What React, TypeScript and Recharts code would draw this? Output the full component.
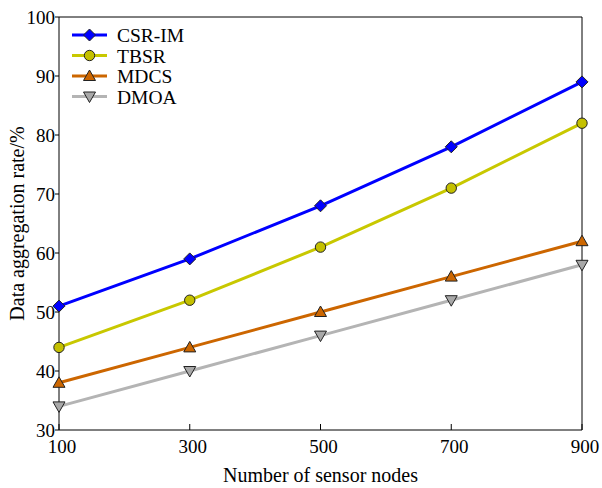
import React from 'react';
import { LineChart, Line, XAxis, YAxis, ReferenceLine } from 'recharts';

const nodes = [100, 300, 500, 700, 900];
const csrIm = [51, 59, 68, 78, 89];
const tbsr = [44, 52, 61, 71, 82];
const mdcs = [38, 44, 50, 56, 62];
const dmoa = [34, 40, 46, 52, 58];
const yTicks = [30, 40, 50, 60, 70, 80, 90, 100];

const SERIES = [
  { key: 'csr', name: 'CSR-IM', line: '#0000ff', fill: '#0000ff', shape: 'diamond' },
  { key: 'tbsr', name: 'TBSR', line: '#c8c800', fill: '#c4c000', shape: 'circle' },
  { key: 'mdcs', name: 'MDCS', line: '#cc6600', fill: '#cc6600', shape: 'up' },
  { key: 'dmoa', name: 'DMOA', line: '#b4b4b4', fill: '#a8a8a8', shape: 'down' },
];

const data = nodes.map((n, i) => ({ n, csr: csrIm[i], tbsr: tbsr[i], mdcs: mdcs[i], dmoa: dmoa[i] }));

const FONT = '"Liberation Serif", "Times New Roman", serif';

function Marker({ cx, cy, shape, fill }: { cx: number; cy: number; shape: string; fill: string }) {
  const stroke = '#222';
  if (shape === 'diamond') {
    return <polygon points={`${cx},${cy - 6} ${cx + 6},${cy} ${cx},${cy + 6} ${cx - 6},${cy}`} fill={fill} stroke={stroke} strokeWidth={1} />;
  }
  if (shape === 'circle') {
    return <circle cx={cx} cy={cy} r={5.2} fill={fill} stroke={stroke} strokeWidth={1} />;
  }
  if (shape === 'up') {
    return <polygon points={`${cx},${cy - 6} ${cx + 6},${cy + 4.5} ${cx - 6},${cy + 4.5}`} fill={fill} stroke={stroke} strokeWidth={1} />;
  }
  return <polygon points={`${cx},${cy + 6} ${cx + 6},${cy - 4.5} ${cx - 6},${cy - 4.5}`} fill={fill} stroke={stroke} strokeWidth={1} />;
}

function XTick(props: any) {
  const { x, y, payload } = props;
  return (
    <g>
      <line x1={x} y1={y} x2={x} y2={y - 6} stroke="#000" strokeWidth={1} />
      <text x={x + 3} y={y + 23} textAnchor="middle" fontSize={19} fontFamily={FONT} fill="#000">{payload.value}</text>
    </g>
  );
}

function LegendBox() {
  return (
    <svg width={150} height={86} style={{ position: 'absolute', left: 70, top: 25 }}>
      {SERIES.map((s, i) => {
        const y = 10 + i * 20.5;
        return (
          <g key={s.key}>
            <line x1={2} y1={y} x2={37} y2={y} stroke={s.line} strokeWidth={3} />
            <Marker cx={19.5} cy={y} shape={s.shape} fill={s.fill} />
            <text x={47} y={y + 7} fontSize={19.5} fontFamily={FONT} fill="#000">{s.name}</text>
          </g>
        );
      })}
    </svg>
  );
}

export default function App() {
  return (
    <div style={{ position: 'absolute', left: 0, top: 0, width: 602, height: 488, background: '#fff' }}>
      <LineChart width={602} height={488} data={data} margin={{ top: 17, right: 20, bottom: 0, left: 0 }}>
        <XAxis
          dataKey="n"
          type="number"
          domain={[100, 900]}
          ticks={nodes}
          tickSize={0}
          tickMargin={0}
          tickLine={false}
          tick={<XTick />}
          axisLine={{ stroke: '#000', strokeWidth: 1 }}
          height={58}
          label={{ value: 'Number of sensor nodes', position: 'insideBottom', offset: 6, fontSize: 20, fontFamily: FONT, fill: '#000' }}
        />
        <YAxis
          type="number"
          domain={[30, 100]}
          ticks={yTicks}
          width={59}
          tickSize={4}
          tickMargin={0}
          tickLine={{ stroke: '#000' }}
          axisLine={{ stroke: '#000', strokeWidth: 1 }}
          tick={{ fontSize: 19, fontFamily: FONT, fill: '#000' }}
          label={{ value: 'Data aggregation rate/%', angle: -90, position: 'insideLeft', offset: 17, style: { textAnchor: 'middle' }, fontSize: 20, fontFamily: FONT, fill: '#000' }}
        />
        <ReferenceLine y={100} stroke="#000" strokeWidth={1} />
        <ReferenceLine x={900} stroke="#000" strokeWidth={1} />
        {SERIES.map(s => (
          <Line
            key={s.key}
            dataKey={s.key}
            name={s.name}
            stroke={s.line}
            strokeWidth={3}
            isAnimationActive={false}
            dot={(p: any) => <Marker key={`${s.key}-${p.index}`} cx={p.cx} cy={p.cy} shape={s.shape} fill={s.fill} />}
            activeDot={false}
          />
        ))}
      </LineChart>
      <LegendBox />
    </div>
  );
}
